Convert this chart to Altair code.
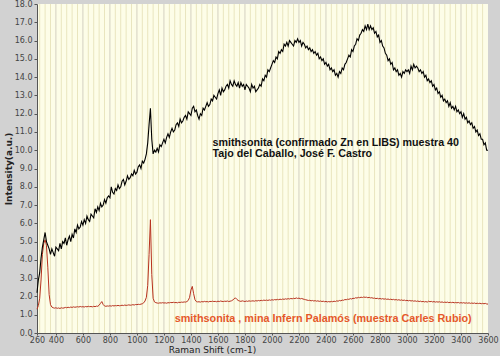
import altair as alt
import pandas as pd

# Raman shift grid (cm-1)
shift = [
    260, 270, 280, 290, 300, 310, 320, 330, 340, 350,
    360, 370, 380, 390, 400, 410, 420, 430, 440, 450,
    460, 470, 480, 490, 500, 510, 520, 530, 540, 550,
    560, 570, 580, 590, 600, 610, 620, 630, 640, 650,
    660, 670, 680, 690, 700, 710, 720, 730, 740, 750,
    760, 770, 780, 790, 800, 810, 820, 830, 840, 850,
    860, 870, 880, 890, 900, 910, 920, 930, 940, 950,
    960, 970, 980, 990, 1000, 1010, 1020, 1030, 1040, 1050,
    1060, 1070, 1080, 1090, 1100, 1110, 1120, 1130, 1140, 1150,
    1160, 1170, 1180, 1190, 1200, 1210, 1220, 1230, 1240, 1250,
    1260, 1270, 1280, 1290, 1300, 1310, 1320, 1330, 1340, 1350,
    1360, 1370, 1380, 1390, 1400, 1410, 1420, 1430, 1440, 1450,
    1460, 1470, 1480, 1490, 1500, 1510, 1520, 1530, 1540, 1550,
    1560, 1570, 1580, 1590, 1600, 1610, 1620, 1630, 1640, 1650,
    1660, 1670, 1680, 1690, 1700, 1710, 1720, 1730, 1740, 1750,
    1760, 1770, 1780, 1790, 1800, 1810, 1820, 1830, 1840, 1850,
    1860, 1870, 1880, 1890, 1900, 1910, 1920, 1930, 1940, 1950,
    1960, 1970, 1980, 1990, 2000, 2010, 2020, 2030, 2040, 2050,
    2060, 2070, 2080, 2090, 2100, 2110, 2120, 2130, 2140, 2150,
    2160, 2170, 2180, 2190, 2200, 2210, 2220, 2230, 2240, 2250,
    2260, 2270, 2280, 2290, 2300, 2310, 2320, 2330, 2340, 2350,
    2360, 2370, 2380, 2390, 2400, 2410, 2420, 2430, 2440, 2450,
    2460, 2470, 2480, 2490, 2500, 2510, 2520, 2530, 2540, 2550,
    2560, 2570, 2580, 2590, 2600, 2610, 2620, 2630, 2640, 2650,
    2660, 2670, 2680, 2690, 2700, 2710, 2720, 2730, 2740, 2750,
    2760, 2770, 2780, 2790, 2800, 2810, 2820, 2830, 2840, 2850,
    2860, 2870, 2880, 2890, 2900, 2910, 2920, 2930, 2940, 2950,
    2960, 2970, 2980, 2990, 3000, 3010, 3020, 3030, 3040, 3050,
    3060, 3070, 3080, 3090, 3100, 3110, 3120, 3130, 3140, 3150,
    3160, 3170, 3180, 3190, 3200, 3210, 3220, 3230, 3240, 3250,
    3260, 3270, 3280, 3290, 3300, 3310, 3320, 3330, 3340, 3350,
    3360, 3370, 3380, 3390, 3400, 3410, 3420, 3430, 3440, 3450,
    3460, 3470, 3480, 3490, 3500, 3510, 3520, 3530, 3540, 3550,
    3560, 3570, 3580, 3590, 3600,
]

# Black spectrum: smithsonita (confirmado Zn en LIBS) muestra 40
black = [
    2.2, 2.9, 3.3, 4.1, 4.7, 5.1, 5.5, 5.0, 4.8, 4.6,
    4.3, 4.6, 4.4, 4.2, 4.7, 4.6, 4.5, 4.9, 4.6, 5.0,
    4.9, 5.2, 4.8, 5.1, 5.3, 5.0, 5.4, 5.2, 5.7, 5.5,
    5.9, 5.7, 5.8, 6.1, 5.9, 6.2, 6.0, 6.4, 6.2, 6.1,
    6.5, 6.4, 6.3, 6.8, 6.6, 6.9, 6.7, 7.1, 6.9, 7.0,
    7.3, 7.1, 7.4, 7.5, 7.4, 8.0, 7.7, 7.6, 7.9, 7.8,
    8.1, 7.9, 8.0, 8.3, 8.4, 8.1, 8.3, 8.6, 8.4, 8.5,
    8.7, 8.6, 8.9, 8.7, 8.8, 9.1, 9.2, 9.0, 9.4, 9.3,
    9.5, 9.8, 10.4, 11.4, 12.3, 10.6, 9.8, 10.0, 9.9, 10.1,
    9.9, 10.3, 10.2, 10.4, 10.6, 10.4, 10.7, 10.9, 10.7, 11.0,
    11.2, 11.0, 11.1, 11.4, 11.5, 11.3, 11.7, 11.5, 11.6, 11.8,
    11.9, 11.7, 12.1, 12.0, 11.9, 12.3, 12.4, 12.1, 12.2, 11.9,
    11.7, 12.0, 11.9, 12.3, 12.2, 12.4, 12.6, 12.4, 12.5, 12.8,
    12.7, 13.0, 12.9, 12.8, 13.1, 13.3, 13.0, 13.4, 13.2, 13.3,
    13.5, 13.6, 13.4, 13.8, 13.6, 13.5, 13.8, 13.6, 13.5, 13.7,
    13.4, 13.7, 13.5, 13.6, 13.3, 13.6, 13.5, 13.4, 13.2, 13.6,
    13.4, 13.5, 13.2, 13.3, 13.4, 13.6, 13.5, 13.9, 13.8, 14.1,
    14.0, 14.4, 14.3, 14.5, 14.7, 14.9, 14.8, 15.1, 15.0, 15.4,
    15.3, 15.5, 15.4, 15.8, 15.7, 15.9, 15.7, 16.0, 15.9, 15.8,
    15.7, 16.0, 15.9, 16.1, 15.9, 16.0, 15.7, 15.9, 15.8, 15.6,
    15.7, 15.5, 15.6, 15.4, 15.5, 15.3, 15.4, 15.2, 15.3, 15.0,
    15.1, 14.9, 15.0, 14.7, 14.8, 14.6, 14.7, 14.4, 14.5, 14.3,
    14.4, 14.1, 14.2, 14.0, 14.3, 14.2, 14.5, 14.4, 14.7, 14.8,
    15.0, 15.2, 15.1, 15.5, 15.4, 15.7, 15.8, 16.1, 16.0, 16.3,
    16.4, 16.6, 16.5, 16.8, 16.6, 16.9, 16.6, 16.8, 16.6, 16.7,
    16.4, 16.5, 16.2, 16.3, 15.9, 16.0, 15.7, 15.6, 15.3, 15.2,
    14.9, 15.0, 14.7, 14.8, 14.4, 14.5, 14.3, 14.4, 14.1, 14.2,
    14.0, 14.3, 14.2, 14.4, 14.3, 14.4, 14.2, 14.6, 14.4, 14.7,
    14.5, 14.6, 14.5, 14.3, 14.4, 14.2, 14.3, 14.0, 14.1, 13.8,
    13.9, 13.7, 13.8, 13.5, 13.6, 13.3, 13.4, 13.1, 13.2, 12.9,
    13.0, 12.7, 12.8, 12.6, 12.7, 12.4, 12.6, 12.3, 12.4, 12.2,
    12.4, 12.1, 12.2, 12.0, 12.1, 11.8, 12.0, 11.7, 11.8, 11.5,
    11.6, 11.4, 11.5, 11.2, 11.3, 11.0, 11.1, 10.8, 10.9, 10.6,
    10.6, 10.3, 10.4, 10.0, 10.0,
]

# Red spectrum: smithsonita, mina Infern Palamós (muestra Carles Rubio)
red = [
    1.30, 1.50, 1.90, 2.90, 4.30, 4.90, 5.10, 4.80, 3.60, 2.10,
    1.55, 1.42, 1.38, 1.36, 1.38, 1.35, 1.37, 1.34, 1.38, 1.36,
    1.37, 1.40, 1.38, 1.41, 1.39, 1.42, 1.40, 1.43, 1.41, 1.42,
    1.44, 1.42, 1.45, 1.43, 1.44, 1.42, 1.45, 1.43, 1.46, 1.44,
    1.45, 1.43, 1.46, 1.44, 1.47, 1.46, 1.52, 1.62, 1.72, 1.56,
    1.48, 1.46, 1.48, 1.47, 1.49, 1.47, 1.50, 1.48, 1.50, 1.49,
    1.51, 1.49, 1.50, 1.52, 1.50, 1.53, 1.51, 1.52, 1.54, 1.52,
    1.53, 1.55, 1.53, 1.56, 1.55, 1.57, 1.56, 1.58, 1.60, 1.65,
    1.75, 1.95, 2.60, 4.30, 6.20, 3.20, 1.90, 1.70, 1.66, 1.64,
    1.63, 1.65, 1.64, 1.66, 1.64, 1.65, 1.63, 1.66, 1.65, 1.67,
    1.66, 1.68, 1.66, 1.67, 1.65, 1.68, 1.67, 1.69, 1.68, 1.70,
    1.69, 1.72, 1.78, 1.95, 2.35, 2.55, 2.15, 1.82, 1.72, 1.70,
    1.71, 1.69, 1.72, 1.70, 1.73, 1.71, 1.72, 1.70, 1.73, 1.72,
    1.74, 1.72, 1.73, 1.71, 1.74, 1.72, 1.75, 1.73, 1.72, 1.74,
    1.73, 1.75, 1.72, 1.74, 1.76, 1.80, 1.88, 1.92, 1.84, 1.78,
    1.75, 1.73, 1.76, 1.74, 1.72, 1.75, 1.73, 1.76, 1.74, 1.75,
    1.76, 1.74, 1.77, 1.75, 1.78, 1.76, 1.79, 1.77, 1.80, 1.78,
    1.80, 1.78, 1.81, 1.79, 1.82, 1.80, 1.83, 1.81, 1.84, 1.82,
    1.85, 1.83, 1.86, 1.84, 1.87, 1.85, 1.88, 1.86, 1.89, 1.87,
    1.90, 1.88, 1.92, 1.89, 1.91, 1.87, 1.89, 1.86, 1.84, 1.82,
    1.80, 1.78, 1.79, 1.76, 1.78, 1.75, 1.77, 1.74, 1.76, 1.73,
    1.75, 1.72, 1.74, 1.71, 1.73, 1.70, 1.72, 1.70, 1.73, 1.71,
    1.74, 1.72, 1.76, 1.74, 1.78, 1.76, 1.80, 1.79, 1.83, 1.82,
    1.85, 1.84, 1.88, 1.86, 1.90, 1.89, 1.93, 1.91, 1.95, 1.93,
    1.96, 1.94, 1.97, 1.95, 1.96, 1.93, 1.95, 1.92, 1.93, 1.90,
    1.91, 1.88, 1.90, 1.87, 1.89, 1.86, 1.88, 1.85, 1.87, 1.84,
    1.86, 1.83, 1.85, 1.82, 1.84, 1.81, 1.83, 1.80, 1.82, 1.79,
    1.81, 1.78, 1.80, 1.77, 1.79, 1.76, 1.78, 1.75, 1.77, 1.74,
    1.76, 1.73, 1.75, 1.72, 1.74, 1.71, 1.73, 1.70, 1.72, 1.69,
    1.74, 1.71, 1.73, 1.70, 1.72, 1.69, 1.71, 1.69, 1.71, 1.68,
    1.70, 1.67, 1.69, 1.67, 1.69, 1.66, 1.68, 1.66, 1.68, 1.65,
    1.67, 1.65, 1.67, 1.64, 1.66, 1.64, 1.66, 1.63, 1.65, 1.63,
    1.65, 1.62, 1.64, 1.62, 1.64, 1.61, 1.63, 1.61, 1.63, 1.60,
    1.62, 1.60, 1.62, 1.59, 1.58,
]

x_labels = [260, 400, 600, 800, 1000, 1200, 1400, 1600, 1800, 2000, 2200,
            2400, 2600, 2800, 3000, 3200, 3400, 3600]
y_labels = [0, 1, 2, 3, 4, 5, 6, 7, 8, 9, 10, 11, 12, 13, 14, 15, 16, 17, 18]
major_grid = [400, 600, 800, 1000, 1200, 1400, 1600, 1800, 2000, 2200,
              2400, 2600, 2800, 3000, 3200, 3400]
minor_grid = [g for g in range(280, 3600, 40) if g not in major_grid]

notes_black = ["smithsonita  (confirmado Zn en LIBS) muestra 40",
               "Tajo del Caballo, José F. Castro"]
note_red = "smithsonita , mina Infern Palamós (muestra Carles Rubio)"

df = pd.DataFrame({"shift": shift, "black": black, "red": red})

xs = alt.Scale(domain=[260, 3600], nice=False, zero=False)
ys = alt.Scale(domain=[0, 18], nice=False, zero=False)

x_axis = alt.Axis(values=x_labels, format="d", title="Raman Shift (cm-1)", grid=False,
                  labelFontSize=8, labelColor="#444", labelFont="DejaVu Sans",
                  labelOverlap=False, labelFlush=False, labelBound=False,
                  tickSize=2, tickColor="#555", domainColor="#555",
                  titleFontSize=9, titleFont="DejaVu Sans", titleFontWeight="normal",
                  titleColor="#222", titleX=175, titleY=12, titleAnchor="middle",
                  labelPadding=1)
y_axis = alt.Axis(values=y_labels, format=".1f", title="Intensity(a.u.)", grid=False,
                  labelFontSize=8, labelColor="#444", labelFont="DejaVu Sans",
                  labelOverlap=False, labelFlush=False,
                  tickSize=3, tickColor="#555", domainColor="#555",
                  titleFontSize=9, titleFont="DejaVu Sans", titleFontWeight="bold",
                  titleColor="#222", titlePadding=1, labelPadding=2)

X = lambda f: alt.X(f, scale=xs, axis=x_axis)
Y = lambda f: alt.Y(f, scale=ys, axis=y_axis)

minor = alt.Chart(pd.DataFrame({"g": minor_grid})).mark_rule(
    color="#e9e5be", strokeWidth=1).encode(x=X("g:Q"))
major = alt.Chart(pd.DataFrame({"g": major_grid})).mark_rule(
    color="#d4d0c0", strokeWidth=1).encode(x=X("g:Q"))

line_black = alt.Chart(df).mark_line(color="#000000", strokeWidth=1.1).encode(
    x=X("shift:Q"), y=Y("black:Q"))
line_red = alt.Chart(df).mark_line(color="#b8321f", strokeWidth=1).encode(
    x=X("shift:Q"), y=Y("red:Q"))

txt_b = pd.DataFrame({"x": [1560, 1560], "y": [10.25, 9.65], "t": notes_black})
text_black = alt.Chart(txt_b).mark_text(
    align="left", baseline="alphabetic", font="Liberation Sans", fontWeight="bold",
    fontSize=10.7, color="#111").encode(
    x=X("x:Q"), y=Y("y:Q"), text="t:N")

txt_r = pd.DataFrame({"x": [1280], "y": [0.62], "t": [note_red]})
text_red = alt.Chart(txt_r).mark_text(
    align="left", baseline="alphabetic", font="Liberation Sans", fontWeight="bold",
    fontSize=10.8, color="#e5582a").encode(
    x=X("x:Q"), y=Y("y:Q"), text="t:N")

chart = alt.layer(minor, major, line_red, line_black, text_black, text_red).properties(
    width=451, height=329,
    padding={"left": 37, "top": 4, "right": 12, "bottom": 23},
    autosize=alt.AutoSizeParams(type="none"),
    background="#d2d2d2",
).configure_view(fill="#fdfde8", stroke=None)

chart.save("out.html", embed_options={"renderer": "svg", "actions": False})
